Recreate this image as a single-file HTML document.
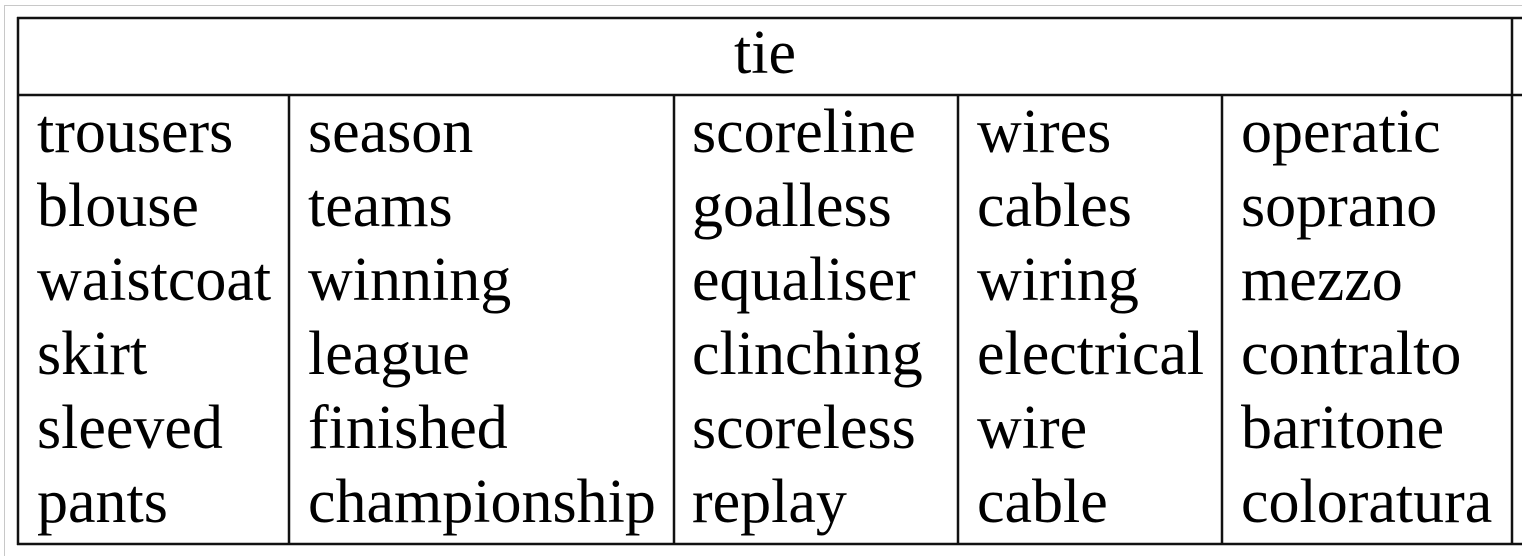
<!DOCTYPE html>
<html><head><style>
html,body{margin:0;padding:0;background:#fff;}
body{width:1522px;height:556px;position:relative;overflow:hidden;font-family:"Liberation Serif",serif;color:#000;}
.t{position:absolute;font-size:62px;line-height:74px;white-space:pre;}
</style></head><body>
<svg width="1522" height="556" style="position:absolute;left:0;top:0">
<rect x="4.5" y="5.5" width="1530" height="560" fill="none" stroke="#c8c8c8" stroke-width="1"/>
<g stroke="#111" stroke-width="2.5">
<line x1="17" y1="18" x2="1522" y2="18"/>
<line x1="17" y1="95" x2="1522" y2="95"/>
<line x1="17" y1="544" x2="1522" y2="544"/>
<line x1="18" y1="17" x2="18" y2="545"/>
<line x1="1512" y1="17" x2="1512" y2="545"/>
<line x1="289" y1="95" x2="289" y2="545"/>
<line x1="674" y1="95" x2="674" y2="545"/>
<line x1="958" y1="95" x2="958" y2="545"/>
<line x1="1222" y1="95" x2="1222" y2="545"/>
</g></svg>
<div class="t" style="left:18px;width:1494px;text-align:center;top:16px">tie</div>
<div class="t" style="left:37px;top:95px">trousers
blouse
waistcoat
skirt
sleeved
pants</div>
<div class="t" style="left:308px;top:95px">season
teams
winning
league
finished
championship</div>
<div class="t" style="left:692px;top:95px">scoreline
goalless
equaliser
clinching
scoreless
replay</div>
<div class="t" style="left:977px;top:95px">wires
cables
wiring
electrical
wire
cable</div>
<div class="t" style="left:1241px;top:95px">operatic
soprano
mezzo
contralto
baritone
coloratura</div>
</body></html>
